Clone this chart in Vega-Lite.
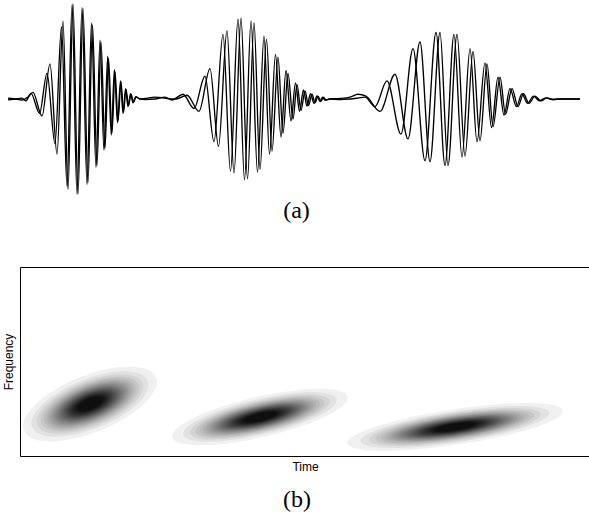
{
  "$schema": "https://vega.github.io/schema/vega-lite/v6.json",
  "padding": {"left": 1, "top": 1, "right": 0, "bottom": 0},
  "background": "white",
  "config": {"view": {"stroke": null}, "font": "Liberation Sans"},
  "spacing": 43,
  "datasets": {
    "blobs": [
      {"blob":"b1","t":82,"f":0.1376,"r":2.372},{"blob":"b1","t":82,"f":0.1376,"r":2.074},{"blob":"b1","t":82,"f":0.1376,"r":1.884},{"blob":"b1","t":82,"f":0.1376,"r":1.742},{"blob":"b1","t":82,"f":0.1376,"r":1.627},
      {"blob":"b1","t":82,"f":0.1376,"r":1.530},{"blob":"b1","t":82,"f":0.1376,"r":1.446},{"blob":"b1","t":82,"f":0.1376,"r":1.372},{"blob":"b1","t":82,"f":0.1376,"r":1.305},{"blob":"b1","t":82,"f":0.1376,"r":1.244},
      {"blob":"b1","t":82,"f":0.1376,"r":1.188},{"blob":"b1","t":82,"f":0.1376,"r":1.137},{"blob":"b1","t":82,"f":0.1376,"r":1.089},{"blob":"b1","t":82,"f":0.1376,"r":1.045},{"blob":"b1","t":82,"f":0.1376,"r":1.003},
      {"blob":"b1","t":82,"f":0.1376,"r":0.964},{"blob":"b1","t":82,"f":0.1376,"r":0.927},{"blob":"b1","t":82,"f":0.1376,"r":0.892},{"blob":"b1","t":82,"f":0.1376,"r":0.859},{"blob":"b1","t":82,"f":0.1376,"r":0.828},
      {"blob":"b1","t":82,"f":0.1376,"r":0.798},{"blob":"b1","t":82,"f":0.1376,"r":0.770},{"blob":"b1","t":82,"f":0.1376,"r":0.742},{"blob":"b1","t":82,"f":0.1376,"r":0.717},{"blob":"b1","t":82,"f":0.1376,"r":0.692},
      {"blob":"b1","t":82,"f":0.1376,"r":0.668},{"blob":"b1","t":82,"f":0.1376,"r":0.646},{"blob":"b1","t":82,"f":0.1376,"r":0.624},{"blob":"b1","t":82,"f":0.1376,"r":0.603},{"blob":"b1","t":82,"f":0.1376,"r":0.583},
      {"blob":"b1","t":82,"f":0.1376,"r":0.564},{"blob":"b1","t":82,"f":0.1376,"r":0.545},{"blob":"b1","t":82,"f":0.1376,"r":0.527},{"blob":"b1","t":82,"f":0.1376,"r":0.510},{"blob":"b1","t":82,"f":0.1376,"r":0.494},
      {"blob":"b1","t":82,"f":0.1376,"r":0.478},{"blob":"b1","t":82,"f":0.1376,"r":0.462},{"blob":"b1","t":82,"f":0.1376,"r":0.447},{"blob":"b1","t":82,"f":0.1376,"r":0.433},{"blob":"b1","t":82,"f":0.1376,"r":0.420},
      {"blob":"b2","t":252,"f":0.103,"r":2.372},{"blob":"b2","t":252,"f":0.103,"r":2.074},{"blob":"b2","t":252,"f":0.103,"r":1.884},{"blob":"b2","t":252,"f":0.103,"r":1.742},{"blob":"b2","t":252,"f":0.103,"r":1.627},
      {"blob":"b2","t":252,"f":0.103,"r":1.530},{"blob":"b2","t":252,"f":0.103,"r":1.446},{"blob":"b2","t":252,"f":0.103,"r":1.372},{"blob":"b2","t":252,"f":0.103,"r":1.305},{"blob":"b2","t":252,"f":0.103,"r":1.244},
      {"blob":"b2","t":252,"f":0.103,"r":1.188},{"blob":"b2","t":252,"f":0.103,"r":1.137},{"blob":"b2","t":252,"f":0.103,"r":1.089},{"blob":"b2","t":252,"f":0.103,"r":1.045},{"blob":"b2","t":252,"f":0.103,"r":1.003},
      {"blob":"b2","t":252,"f":0.103,"r":0.964},{"blob":"b2","t":252,"f":0.103,"r":0.927},{"blob":"b2","t":252,"f":0.103,"r":0.892},{"blob":"b2","t":252,"f":0.103,"r":0.859},{"blob":"b2","t":252,"f":0.103,"r":0.828},
      {"blob":"b2","t":252,"f":0.103,"r":0.798},{"blob":"b2","t":252,"f":0.103,"r":0.770},{"blob":"b2","t":252,"f":0.103,"r":0.742},{"blob":"b2","t":252,"f":0.103,"r":0.717},{"blob":"b2","t":252,"f":0.103,"r":0.692},
      {"blob":"b2","t":252,"f":0.103,"r":0.668},{"blob":"b2","t":252,"f":0.103,"r":0.646},{"blob":"b2","t":252,"f":0.103,"r":0.624},{"blob":"b2","t":252,"f":0.103,"r":0.603},{"blob":"b2","t":252,"f":0.103,"r":0.583},
      {"blob":"b2","t":252,"f":0.103,"r":0.564},{"blob":"b2","t":252,"f":0.103,"r":0.545},{"blob":"b2","t":252,"f":0.103,"r":0.527},{"blob":"b2","t":252,"f":0.103,"r":0.510},{"blob":"b2","t":252,"f":0.103,"r":0.494},
      {"blob":"b2","t":252,"f":0.103,"r":0.478},{"blob":"b2","t":252,"f":0.103,"r":0.462},{"blob":"b2","t":252,"f":0.103,"r":0.447},{"blob":"b2","t":252,"f":0.103,"r":0.433},{"blob":"b2","t":252,"f":0.103,"r":0.420},
      {"blob":"b3","t":447,"f":0.0767,"r":2.372},{"blob":"b3","t":447,"f":0.0767,"r":2.074},{"blob":"b3","t":447,"f":0.0767,"r":1.884},{"blob":"b3","t":447,"f":0.0767,"r":1.742},{"blob":"b3","t":447,"f":0.0767,"r":1.627},
      {"blob":"b3","t":447,"f":0.0767,"r":1.530},{"blob":"b3","t":447,"f":0.0767,"r":1.446},{"blob":"b3","t":447,"f":0.0767,"r":1.372},{"blob":"b3","t":447,"f":0.0767,"r":1.305},{"blob":"b3","t":447,"f":0.0767,"r":1.244},
      {"blob":"b3","t":447,"f":0.0767,"r":1.188},{"blob":"b3","t":447,"f":0.0767,"r":1.137},{"blob":"b3","t":447,"f":0.0767,"r":1.089},{"blob":"b3","t":447,"f":0.0767,"r":1.045},{"blob":"b3","t":447,"f":0.0767,"r":1.003},
      {"blob":"b3","t":447,"f":0.0767,"r":0.964},{"blob":"b3","t":447,"f":0.0767,"r":0.927},{"blob":"b3","t":447,"f":0.0767,"r":0.892},{"blob":"b3","t":447,"f":0.0767,"r":0.859},{"blob":"b3","t":447,"f":0.0767,"r":0.828},
      {"blob":"b3","t":447,"f":0.0767,"r":0.798},{"blob":"b3","t":447,"f":0.0767,"r":0.770},{"blob":"b3","t":447,"f":0.0767,"r":0.742},{"blob":"b3","t":447,"f":0.0767,"r":0.717},{"blob":"b3","t":447,"f":0.0767,"r":0.692},
      {"blob":"b3","t":447,"f":0.0767,"r":0.668},{"blob":"b3","t":447,"f":0.0767,"r":0.646},{"blob":"b3","t":447,"f":0.0767,"r":0.624},{"blob":"b3","t":447,"f":0.0767,"r":0.603},{"blob":"b3","t":447,"f":0.0767,"r":0.583},
      {"blob":"b3","t":447,"f":0.0767,"r":0.564},{"blob":"b3","t":447,"f":0.0767,"r":0.545},{"blob":"b3","t":447,"f":0.0767,"r":0.527},{"blob":"b3","t":447,"f":0.0767,"r":0.510},{"blob":"b3","t":447,"f":0.0767,"r":0.494},
      {"blob":"b3","t":447,"f":0.0767,"r":0.478},{"blob":"b3","t":447,"f":0.0767,"r":0.462},{"blob":"b3","t":447,"f":0.0767,"r":0.447},{"blob":"b3","t":447,"f":0.0767,"r":0.433},{"blob":"b3","t":447,"f":0.0767,"r":0.420}
    ],
    "wave": [
        {"sig":"A","s":0,"a":0.01},{"sig":"A","s":7,"a":0.0},{"sig":"A","s":14,"a":-0.01},{"sig":"A","s":20,"a":0.02},{"sig":"A","s":25,"a":0.07},
        {"sig":"A","s":34,"a":-0.18},{"sig":"A","s":42,"a":0.37},{"sig":"A","s":49,"a":-0.58},{"sig":"A","s":55,"a":0.82},{"sig":"A","s":60,"a":-0.95},
        {"sig":"A","s":65,"a":1.0},{"sig":"A","s":70,"a":-1.0},{"sig":"A","s":75,"a":0.95},{"sig":"A","s":80,"a":-0.88},{"sig":"A","s":84.5,"a":0.78},
        {"sig":"A","s":89,"a":-0.7},{"sig":"A","s":93,"a":0.6},{"sig":"A","s":97,"a":-0.52},{"sig":"A","s":100.5,"a":0.43},{"sig":"A","s":104,"a":-0.36},
        {"sig":"A","s":107,"a":0.29},{"sig":"A","s":110,"a":-0.23},{"sig":"A","s":113,"a":0.18},{"sig":"A","s":115.5,"a":-0.14},{"sig":"A","s":118,"a":0.1},
        {"sig":"A","s":120.5,"a":-0.07},{"sig":"A","s":123,"a":0.05},{"sig":"A","s":125.5,"a":-0.035},{"sig":"A","s":128,"a":0.02},{"sig":"A","s":132,"a":0.0},
        {"sig":"A","s":137,"a":0.005},{"sig":"A","s":147,"a":0.02},{"sig":"A","s":157,"a":0.01},{"sig":"A","s":164,"a":0.0},
        {"sig":"A","s":168,"a":0.0},{"sig":"A","s":179,"a":0.04},{"sig":"A","s":191,"a":-0.13},{"sig":"A","s":202,"a":0.32},{"sig":"A","s":210.5,"a":-0.5},
        {"sig":"A","s":219,"a":0.72},{"sig":"A","s":226,"a":-0.78},{"sig":"A","s":233,"a":0.85},{"sig":"A","s":239.5,"a":-0.84},{"sig":"A","s":246,"a":0.8},
        {"sig":"A","s":252,"a":-0.74},{"sig":"A","s":258.5,"a":0.63},{"sig":"A","s":264,"a":-0.55},{"sig":"A","s":270,"a":0.44},{"sig":"A","s":275,"a":-0.36},
        {"sig":"A","s":280,"a":0.27},{"sig":"A","s":285,"a":-0.21},{"sig":"A","s":289,"a":0.15},{"sig":"A","s":293,"a":-0.12},{"sig":"A","s":297,"a":0.085},
        {"sig":"A","s":300.5,"a":-0.07},{"sig":"A","s":304,"a":0.05},{"sig":"A","s":307,"a":-0.04},{"sig":"A","s":310,"a":0.03},{"sig":"A","s":313,"a":-0.025},
        {"sig":"A","s":315.5,"a":0.018},{"sig":"A","s":318,"a":-0.01},{"sig":"A","s":322,"a":0.0},
        {"sig":"A","s":332,"a":0.005},{"sig":"A","s":342,"a":0.02},{"sig":"A","s":350,"a":0.05},{"sig":"A","s":358,"a":0.03},
        {"sig":"A","s":372,"a":-0.13},{"sig":"A","s":387,"a":0.26},{"sig":"A","s":400,"a":-0.42},{"sig":"A","s":412,"a":0.6},{"sig":"A","s":422,"a":-0.66},
        {"sig":"A","s":432,"a":0.7},{"sig":"A","s":440,"a":-0.7},{"sig":"A","s":449,"a":0.68},{"sig":"A","s":457,"a":-0.6},{"sig":"A","s":465,"a":0.5},
        {"sig":"A","s":472,"a":-0.44},{"sig":"A","s":479,"a":0.37},{"sig":"A","s":485,"a":-0.29},{"sig":"A","s":492,"a":0.23},{"sig":"A","s":497.5,"a":-0.16},
        {"sig":"A","s":504,"a":0.11},{"sig":"A","s":510,"a":-0.08},{"sig":"A","s":515.5,"a":0.055},{"sig":"A","s":521,"a":-0.045},{"sig":"A","s":527,"a":0.03},
        {"sig":"A","s":533,"a":-0.02},{"sig":"A","s":539,"a":0.012},{"sig":"A","s":545,"a":-0.005},{"sig":"A","s":552,"a":0.0},{"sig":"A","s":562,"a":0.0},{"sig":"A","s":572,"a":0.0},
        {"sig":"B","s":0,"a":-0.01},{"sig":"B","s":7,"a":0.0},{"sig":"B","s":14,"a":0.01},{"sig":"B","s":18,"a":-0.02},{"sig":"B","s":23,"a":0.06},
        {"sig":"B","s":31.5,"a":-0.15},{"sig":"B","s":39,"a":0.27},{"sig":"B","s":47,"a":-0.47},{"sig":"B","s":53.5,"a":0.76},{"sig":"B","s":59,"a":-0.92},
        {"sig":"B","s":64,"a":0.99},{"sig":"B","s":69,"a":-1.0},{"sig":"B","s":74,"a":0.96},{"sig":"B","s":79,"a":-0.9},{"sig":"B","s":83.5,"a":0.8},
        {"sig":"B","s":88,"a":-0.72},{"sig":"B","s":92,"a":0.62},{"sig":"B","s":96,"a":-0.54},{"sig":"B","s":99.7,"a":0.45},{"sig":"B","s":103.3,"a":-0.38},
        {"sig":"B","s":106.4,"a":0.31},{"sig":"B","s":109.5,"a":-0.25},{"sig":"B","s":112.5,"a":0.19},{"sig":"B","s":115,"a":-0.15},{"sig":"B","s":117.6,"a":0.11},
        {"sig":"B","s":120,"a":-0.08},{"sig":"B","s":122.6,"a":0.055},{"sig":"B","s":125,"a":-0.04},{"sig":"B","s":127.6,"a":0.025},{"sig":"B","s":132,"a":0.0},
        {"sig":"B","s":137,"a":-0.005},{"sig":"B","s":147,"a":0.0},{"sig":"B","s":157,"a":0.02},{"sig":"B","s":164,"a":-0.01},
        {"sig":"B","s":175,"a":0.05},{"sig":"B","s":186,"a":-0.1},{"sig":"B","s":197,"a":0.24},{"sig":"B","s":206,"a":-0.45},{"sig":"B","s":215,"a":0.68},
        {"sig":"B","s":222.5,"a":-0.76},{"sig":"B","s":230,"a":0.84},{"sig":"B","s":236.5,"a":-0.85},{"sig":"B","s":243,"a":0.82},{"sig":"B","s":249.5,"a":-0.77},
        {"sig":"B","s":256,"a":0.66},{"sig":"B","s":261.5,"a":-0.58},{"sig":"B","s":267.5,"a":0.47},{"sig":"B","s":273,"a":-0.4},{"sig":"B","s":278,"a":0.3},
        {"sig":"B","s":283,"a":-0.23},{"sig":"B","s":287.5,"a":0.17},{"sig":"B","s":291.5,"a":-0.13},{"sig":"B","s":295.5,"a":0.095},{"sig":"B","s":299,"a":-0.075},
        {"sig":"B","s":302.5,"a":0.055},{"sig":"B","s":306,"a":-0.045},{"sig":"B","s":309,"a":0.032},{"sig":"B","s":312,"a":-0.027},{"sig":"B","s":314.5,"a":0.02},
        {"sig":"B","s":317,"a":-0.012},{"sig":"B","s":322,"a":0.0},
        {"sig":"B","s":332,"a":-0.005},{"sig":"B","s":342,"a":0.0},{"sig":"B","s":350,"a":0.01},{"sig":"B","s":357,"a":0.02},
        {"sig":"B","s":367,"a":-0.08},{"sig":"B","s":379,"a":0.19},{"sig":"B","s":393,"a":-0.37},{"sig":"B","s":405,"a":0.53},{"sig":"B","s":417,"a":-0.65},
        {"sig":"B","s":428,"a":0.7},{"sig":"B","s":437,"a":-0.7},{"sig":"B","s":446,"a":0.68},{"sig":"B","s":454,"a":-0.61},{"sig":"B","s":462,"a":0.53},
        {"sig":"B","s":469,"a":-0.45},{"sig":"B","s":477,"a":0.38},{"sig":"B","s":483.5,"a":-0.3},{"sig":"B","s":490,"a":0.23},{"sig":"B","s":496,"a":-0.17},
        {"sig":"B","s":502,"a":0.11},{"sig":"B","s":508.5,"a":-0.08},{"sig":"B","s":514,"a":0.055},{"sig":"B","s":519.5,"a":-0.045},{"sig":"B","s":525.5,"a":0.03},
        {"sig":"B","s":531.5,"a":-0.02},{"sig":"B","s":537.5,"a":0.012},{"sig":"B","s":544,"a":-0.005},{"sig":"B","s":552,"a":0.0},{"sig":"B","s":562,"a":0.0},{"sig":"B","s":572,"a":0.0}
    ]
  },
  "vconcat": [
    {
      "width": 569,
      "height": 190,
      "title": {"text": "(a)", "orient": "bottom", "font": "Liberation Serif", "fontSize": 24, "fontWeight": "normal", "anchor": "middle", "dx": -8, "offset": 2, "color": "black"},
      "data": {"name": "wave"},
      "mark": {"type": "line", "interpolate": "monotone", "color": "black", "strokeWidth": 1.35},
      "encoding": {
        "x": {"field": "s", "type": "quantitative", "scale": {"domain": [12, 581], "nice": false, "zero": false}, "axis": null},
        "y": {"field": "a", "type": "quantitative", "scale": {"domain": [-1, 1], "nice": false}, "axis": null},
        "detail": {"field": "sig"}
      }
    },
    {
      "width": 576,
      "height": 189,
      "view": {"stroke": "black", "strokeWidth": 1},
      "title": {"text": "(b)", "orient": "bottom", "font": "Liberation Serif", "fontSize": 24, "fontWeight": "normal", "anchor": "middle", "dx": -11, "offset": 16, "color": "black"},
      "data": {"name": "blobs"},
      "mark": {"type": "point", "filled": true, "color": "black", "opacity": 0.06, "strokeWidth": 0, "clip": true},
      "encoding": {
        "x": {"field": "t", "type": "quantitative", "scale": {"domain": [12, 588], "nice": false, "zero": false},
              "axis": {"title": "Time", "labels": false, "ticks": false, "domain": false, "grid": false, "titleFontSize": 12, "titleFontWeight": "normal", "titleColor": "black", "titlePadding": 5, "minExtent": 0, "maxExtent": 0, "titleX": 285}},
        "y": {"field": "f", "type": "quantitative", "scale": {"domain": [0, 0.5], "nice": false},
              "axis": {"title": "Frequency", "labels": false, "ticks": false, "domain": false, "grid": false, "titleFontSize": 12, "titleFontWeight": "normal", "titleColor": "black", "titlePadding": 5, "minExtent": 0, "maxExtent": 0}},
        "size": {"field": "r", "type": "quantitative", "scale": {"type": "pow", "exponent": 2, "domain": [0, 1], "range": [0, 14400], "zero": true, "nice": false}, "legend": null},
        "shape": {"field": "blob", "type": "nominal", "legend": null, "scale": {"domain": ["b1", "b2", "b3"], "range": [
          "M 0.4636 -0.1873 C 0.5050 -0.0849 0.3310 0.0820 0.0749 0.1854 C -0.1811 0.2889 -0.4222 0.2897 -0.4636 0.1873 C -0.5050 0.0849 -0.3310 -0.0820 -0.0749 -0.1854 C 0.1811 -0.2889 0.4222 -0.2897 0.4636 -0.1873 Z",
          "M 0.6168 -0.1424 C 0.6344 -0.0660 0.3726 0.0597 0.0319 0.1384 C -0.3087 0.2170 -0.5991 0.2188 -0.6168 0.1424 C -0.6344 0.0660 -0.3726 -0.0597 -0.0319 -0.1384 C 0.3087 -0.2170 0.5991 -0.2188 0.6168 -0.1424 Z",
          "M 0.7584 -0.1147 C 0.7687 -0.0464 0.4375 0.0603 0.0187 0.1236 C -0.4002 0.1869 -0.7481 0.1830 -0.7584 0.1147 C -0.7687 0.0464 -0.4375 -0.0603 -0.0187 -0.1236 C 0.4002 -0.1869 0.7481 -0.1830 0.7584 -0.1147 Z"
        ]}}
      }
    }
  ]
}
